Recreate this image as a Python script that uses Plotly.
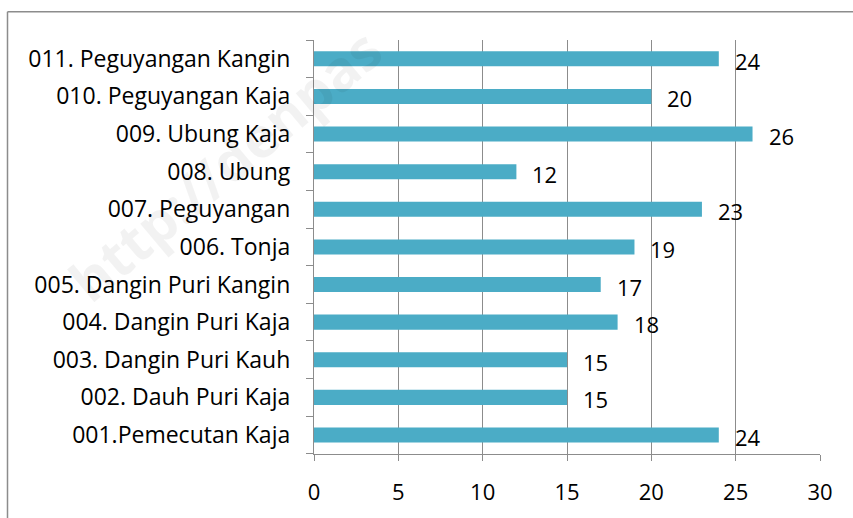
import plotly.graph_objects as go

categories = [
    "001.Pemecutan Kaja",
    "002. Dauh Puri Kaja",
    "003. Dangin Puri Kauh",
    "004. Dangin Puri Kaja",
    "005. Dangin Puri Kangin",
    "006. Tonja",
    "007. Peguyangan",
    "008. Ubung",
    "009. Ubung Kaja",
    "010. Peguyangan Kaja",
    "011. Peguyangan Kangin",
]
values = [24, 15, 15, 18, 17, 19, 23, 12, 26, 20, 24]
x_ticks = [0, 5, 10, 15, 20, 25, 30]

BAR = "#4BACC6"
FONT = "Open Sans"

fig = go.Figure()
fig.add_trace(go.Bar(
    y=categories, x=values, orientation="h",
    marker=dict(color=BAR, line=dict(width=0)),
    width=0.4,
))

for c, v in zip(categories, values):
    fig.add_annotation(x=v, y=c, text=str(v), showarrow=False,
                       xanchor="left", yanchor="middle", xshift=14, yshift=-2,
                       font=dict(family=FONT, size=22, color="#000000"))

W, H = 853, 518
L, R, T, B = 314, 33, 40, 62
pw, ph = W - L - R, H - T - B

def px_x(p):
    return (p - L) / pw

def px_y(p):
    return 1 - (p - T) / ph

# outer chart border (top and left visible)
fig.add_shape(type="line", xref="paper", yref="paper",
              x0=px_x(7.5), x1=px_x(860), y0=px_y(11.5), y1=px_y(11.5),
              line=dict(color="#8c8c8c", width=1.5))
fig.add_shape(type="line", xref="paper", yref="paper",
              x0=px_x(7.5), x1=px_x(7.5), y0=px_y(11.5), y1=px_y(530),
              line=dict(color="#8c8c8c", width=1.5))

# faint watermark
fig.add_annotation(xref="paper", yref="paper", x=px_x(225), y=px_y(165),
                   xanchor="center", yanchor="middle",
                   text="<b>http://denpas</b>", showarrow=False,
                   textangle=-40, font=dict(family=FONT, size=56, color="rgba(0,0,0,0.05)"))

fig.update_layout(
    width=W, height=H,
    margin=dict(l=L, r=R, t=T, b=B),
    paper_bgcolor="white", plot_bgcolor="white",
    showlegend=False,
    bargap=0.6,
    xaxis=dict(range=[0, 30], tickvals=x_ticks, showgrid=True,
               gridcolor="#8c8c8c", gridwidth=1.3,
               showline=True, linecolor="#8c8c8c", linewidth=1.3,
               ticks="outside", ticklen=6, tickcolor="#8c8c8c",
               ticklabelstandoff=12,
               tickfont=dict(family=FONT, size=22, color="#000000"),
               zeroline=False, fixedrange=True),
    yaxis=dict(type="category", categoryorder="array", categoryarray=categories,
               showgrid=False, showline=True, linecolor="#8c8c8c", linewidth=1.3,
               ticks="outside", ticklen=7, tickcolor="#8c8c8c", tickson="boundaries",
               tickfont=dict(family=FONT, size=23, color="#000000"),
               ticklabelstandoff=18,
               zeroline=False, fixedrange=True),
)

fig.write_html("out.html", post_script="document.body.style.margin='0';",
               config={"displayModeBar": False})
